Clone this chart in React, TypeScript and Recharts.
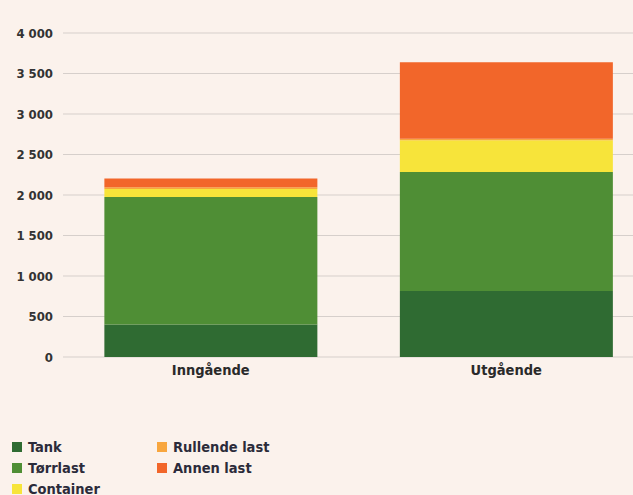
import { Bar, BarChart, CartesianGrid, Legend, XAxis, YAxis } from "recharts";

const categories = ["Inngående", "Utgående"];
const tank = [400, 815];
const torrlast = [1575, 1470];
const container = [100, 390];
const rullende = [20, 20];
const annen = [110, 945];
const yTicks = [0, 500, 1000, 1500, 2000, 2500, 3000, 3500, 4000];

const series = [
  { key: "tank", name: "Tank", color: "#2f6b32", values: tank },
  { key: "torrlast", name: "Tørrlast", color: "#4f8e35", values: torrlast },
  { key: "container", name: "Container", color: "#f7e43a", values: container },
  { key: "rullende", name: "Rullende last", color: "#f8a63e", values: rullende },
  { key: "annen", name: "Annen last", color: "#f2662a", values: annen },
];

const data = categories.map((c, i) => {
  const row: Record<string, string | number> = { name: c };
  series.forEach((s) => {
    row[s.key] = s.values[i];
  });
  return row;
});

const font = "'DejaVu Sans Condensed', 'DejaVu Sans', sans-serif";

const fmt = (v: number) => (v >= 1000 ? `${Math.floor(v / 1000)} ${String(v % 1000).padStart(3, "0")}` : String(v));

// keep legend in the same order as the series (column-major, 3 rows)
function LegendBox({ payload }: any) {
  const order = series.map((s) => s.name);
  const items = [...(payload || [])].sort((a: any, b: any) => order.indexOf(a.value) - order.indexOf(b.value));
  return (
    <div
      style={{
        display: "grid",
        gridAutoFlow: "column",
        gridTemplateRows: "repeat(3, 21px)",
        gridTemplateColumns: "145px auto",
        fontFamily: font,
        fontWeight: "bold",
        fontSize: 14.5,
        color: "#2b2b3a",
      }}
    >
      {items.map((p: any) => (
        <div key={p.value} style={{ display: "flex", alignItems: "center" }}>
          <span style={{ width: 10, height: 10, background: p.color, marginRight: 6, display: "inline-block" }} />
          {p.value}
        </div>
      ))}
    </div>
  );
}

export default function App() {
  return (
    <div
      style={{
        position: "fixed",
        left: 0,
        top: 0,
        width: 633,
        height: 495,
        overflow: "hidden",
        background: "#fbf2ec",
      }}
    >
      <BarChart
        width={662}
        height={495}
        data={data}
        margin={{ top: 33, right: 8, left: 0, bottom: 53 }}
        barCategoryGap="14%"
      >
        <CartesianGrid vertical={false} stroke="#d6cfcb" />
        <XAxis
          dataKey="name"
          axisLine={false}
          tickLine={false}
          height={30}
          tick={{ fontFamily: font, fontWeight: "bold", fontSize: 14.5, fill: "#2a2a2a" }}
        />
        <YAxis
          domain={[0, 4000]}
          ticks={yTicks}
          tickFormatter={fmt}
          axisLine={false}
          tickLine={false}
          width={63}
          tickMargin={4}
          tick={{ fontFamily: font, fontWeight: "bold", fontSize: 13, fill: "#333" }}
        />
        <Legend
          content={<LegendBox />}
          wrapperStyle={{ height: 55, width: 320, left: 12, top: 436 }}
        />
        {series.map((s) => (
          <Bar key={s.key} dataKey={s.key} name={s.name} stackId="a" fill={s.color} isAnimationActive={false} />
        ))}
      </BarChart>
    </div>
  );
}
